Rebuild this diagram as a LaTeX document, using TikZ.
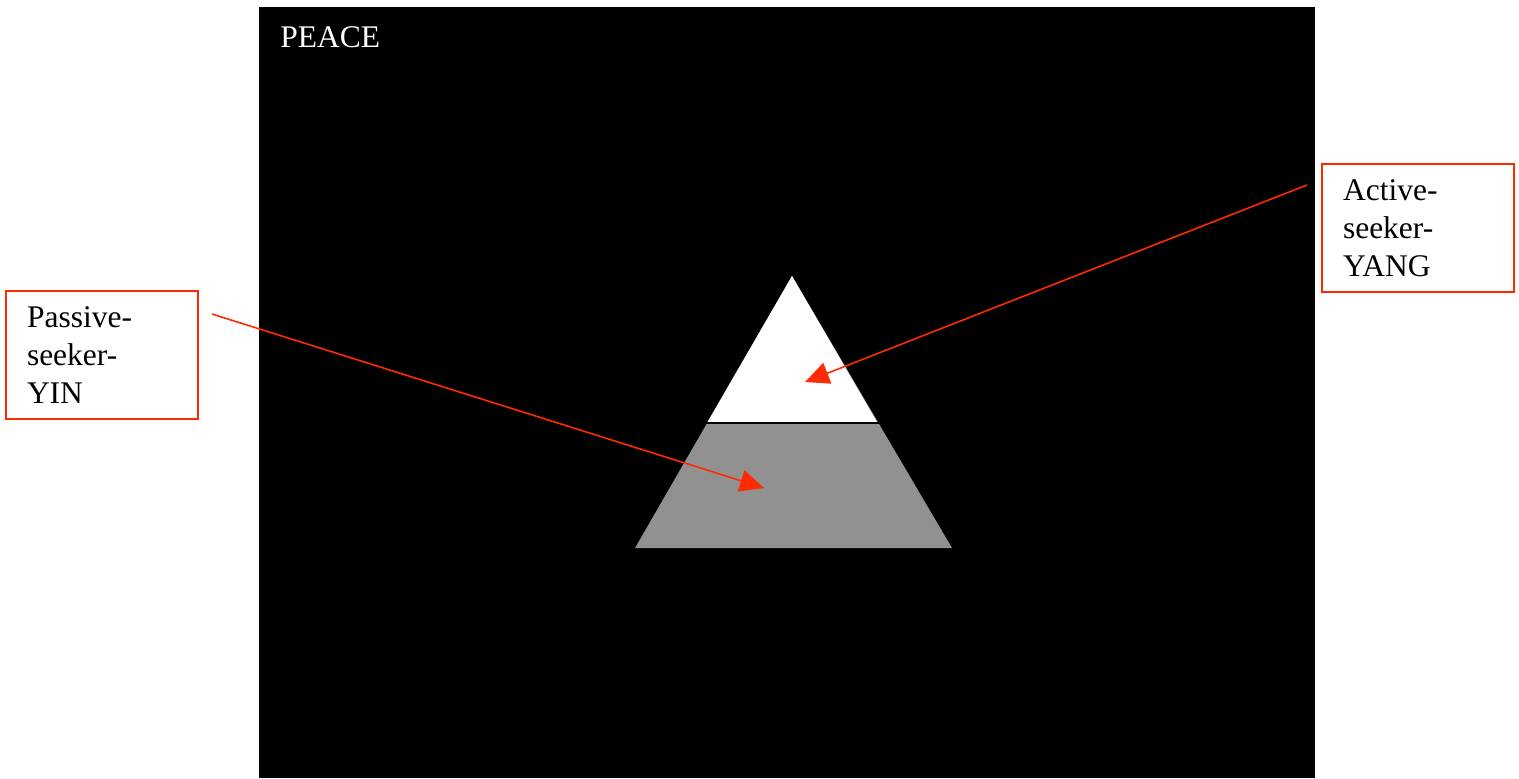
\documentclass[tikz,border=0pt]{standalone}
\usepackage{fontspec}
\setmainfont{Liberation Serif}
\usetikzlibrary{arrows.meta}
\definecolor{lred}{HTML}{FF2A00}
\definecolor{pgray}{HTML}{919191}
\tikzset{
  labelbox/.style={draw=lred, line width=1pt, fill=white, rectangle, minimum width=96pt, minimum height=64pt,
    text width=75pt, inner xsep=10.5pt, align=left, anchor=north west,
    font=\fontsize{15.75}{19}\selectfont},
  pointer/.style={draw=lred, line width=0.8pt, -{Triangle[length=12pt,width=11pt]}}
}
\begin{document}
\begin{tikzpicture}[x=0.5pt,y=-0.5pt]
\useasboundingbox (0,0) rectangle (1519,778);
\fill[white] (0,0) rectangle (1519,778);
\fill[black] (259,7) rectangle (1315,778);
\node[anchor=base west, inner sep=0pt, text=white, font=\fontsize{15.75}{18}\selectfont] (peace) at (280,47) {PEACE};
% pyramid
\fill[pgray] (792,276) -- (952,548) -- (635,548) -- cycle;
\fill[white] (792,276) -- (877,422) -- (707.5,422) -- cycle;
\draw[black, line width=1.2pt] (700,423) -- (885,423);
% boxes
\node[labelbox] (yin) at (5,290) {Passive-\\seeker-\\YIN};
\node[labelbox] (yang) at (1321,163) {Active-\\seeker-\\YANG};
\coordinate (yinstart) at (212,314);
\coordinate (yintip) at (764,488);
\coordinate (yangstart) at (1307,185);
\coordinate (yangtip) at (805,382);
\draw[pointer] (yinstart) -- (yintip);
\draw[pointer] (yangstart) -- (yangtip);
\end{tikzpicture}
\end{document}
